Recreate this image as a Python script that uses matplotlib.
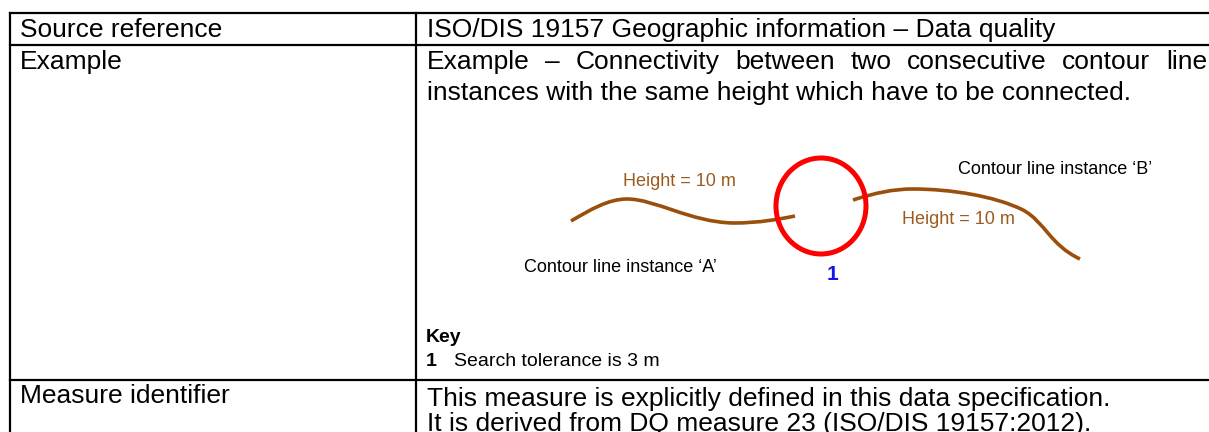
import matplotlib
matplotlib.use("Agg")
import matplotlib.pyplot as plt
from matplotlib import font_manager
from matplotlib.path import Path
from matplotlib.patches import PathPatch, Ellipse

# ---- content ----
left_labels = ["Source reference", "Example", "Measure identifier"]
source_text = "ISO/DIS 19157 Geographic information \u2013 Data quality"
example_line1 = "Example \u2013 Connectivity between two consecutive contour line"
example_line2 = "instances with the same height which have to be connected."
measure_lines = ["This measure is explicitly defined in this data specification.",
                 "It is derived from DQ measure 23 (ISO/DIS 19157:2012)."]
height_label = "Height = 10 m"
label_a = "Contour line instance \u2018A\u2019"
label_b = "Contour line instance \u2018B\u2019"
key_title = "Key"
key_num = "1"
key_text = "Search tolerance is 3 m"

# contour curve control points (bezier, pixel space)
curve_a = [(571, 221), (590, 210), (608, 199), (627, 199),
           (655, 199), (690, 222), (733, 223),
           (760, 223), (780, 219), (795, 216)]
curve_b = [(853, 200), (875, 193), (893, 189), (913, 189),
           (950, 189), (995, 196), (1023, 210),
           (1045, 222), (1050, 245), (1080, 259)]

avail = {f.name for f in font_manager.fontManager.ttflist}
REG = "Liberation Sans" if "Liberation Sans" in avail else "DejaVu Sans"
NARROW = "Liberation Sans Narrow" if "Liberation Sans Narrow" in avail else REG

W, H = 1209, 432
fig = plt.figure(figsize=(W / 100, H / 100), dpi=100)
ax = fig.add_axes([0, 0, 1, 1])
ax.set_xlim(0, W)
ax.set_ylim(H, 0)
ax.axis("off")

# table grid
lw = 1.6
ax.plot([10, W], [13, 13], color="black", lw=lw)
ax.plot([10, W], [45, 45], color="black", lw=lw)
ax.plot([10, W], [380, 380], color="black", lw=lw)
ax.plot([10, 10], [13, H], color="black", lw=lw)
ax.plot([416, 416], [13, H], color="black", lw=lw)

FS = 19
ax.text(20, 30, left_labels[0], fontsize=FS, family=REG, va="center", ha="left")
ax.text(20, 62, left_labels[1], fontsize=FS, family=REG, va="center", ha="left")
ax.text(20, 396, left_labels[2], fontsize=FS, family=REG, va="center", ha="left")

ax.text(427, 30, source_text, fontsize=FS, family=NARROW, va="center", ha="left")

# justified first line
fig.canvas.draw()
renderer = fig.canvas.get_renderer()
words = example_line1.split(" ")
widths = []
for w_ in words:
    t = ax.text(0, 0, w_, fontsize=FS, family=REG)
    bb = t.get_window_extent(renderer)
    widths.append(bb.width)
    t.remove()
x_start, x_end = 427, 1207
gap = (x_end - x_start - sum(widths)) / (len(words) - 1)
x = x_start
for w_, wd in zip(words, widths):
    ax.text(x, 62, w_, fontsize=FS, family=REG, va="center", ha="left")
    x += wd + gap
ax.text(427, 93, example_line2, fontsize=FS, family=REG, va="center", ha="left")

ax.text(427, 399, measure_lines[0], fontsize=FS, family=REG, va="center", ha="left")
ax.text(427, 424, measure_lines[1], fontsize=FS, family=REG, va="center", ha="left")

# diagram
brown = "#9A4F0C"
def bez(pts):
    codes = [Path.MOVETO] + [Path.CURVE4] * (len(pts) - 1)
    return Path(pts, codes)
ax.add_patch(PathPatch(bez(curve_a), fc="none", ec=brown, lw=2.6, capstyle="butt"))
ax.add_patch(PathPatch(bez(curve_b), fc="none", ec=brown, lw=2.6, capstyle="butt"))
ax.add_patch(Ellipse((821, 206), 90, 96, fc="none", ec="#FF0000", lw=3.6))

LFS = 13
ax.text(679, 181, height_label, fontsize=LFS, family=NARROW, color="#9C5A1E", va="center", ha="center")
ax.text(958, 220, height_label, fontsize=LFS, family=NARROW, color="#9C5A1E", va="center", ha="center")
ax.text(620, 267, label_a, fontsize=LFS, family=NARROW, color="black", va="center", ha="center")
ax.text(1055, 170, label_b, fontsize=LFS, family=NARROW, color="black", va="center", ha="center")
ax.text(833, 274, "1", fontsize=15, family=REG, weight="bold", color="#1414F0", va="center", ha="center")

ax.text(426, 338, key_title, fontsize=14, family=NARROW, weight="bold", va="center", ha="left")
ax.text(426, 361, key_num, fontsize=14, family=NARROW, weight="bold", va="center", ha="left")
ax.text(454, 361, key_text, fontsize=14, family=NARROW, va="center", ha="left")

fig.savefig("out.png", dpi=100)
